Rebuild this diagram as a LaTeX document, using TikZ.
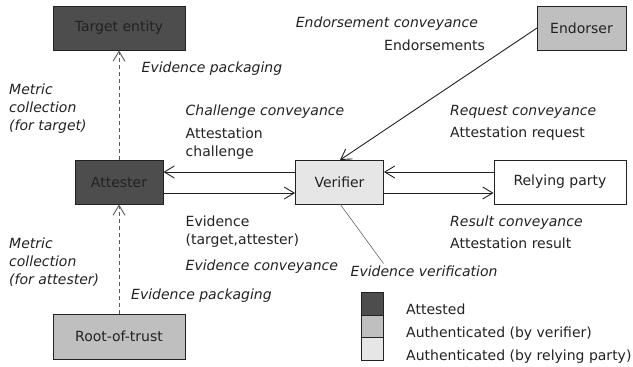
\documentclass[tikz,border=0pt]{standalone}
\usepackage{fontspec}
\setmainfont{DejaVu Sans}
\usetikzlibrary{arrows.meta}
\definecolor{attested}{HTML}{4D4D4D}
\definecolor{authver}{HTML}{BFBFBF}
\definecolor{authrp}{HTML}{E6E6E6}
\definecolor{ink}{HTML}{222222}
\begin{document}
\begin{tikzpicture}[x=1pt,y=-1pt,
  every node/.style={font=\fontsize{14}{18}\selectfont, text=ink},
  entity/.style={draw=ink, line width=0.9pt, inner sep=0pt, minimum height=44pt},
  lbl/.style={anchor=base west, inner sep=0pt, align=left},
  ilbl/.style={lbl, font=\fontsize{14}{18}\selectfont\itshape},
  flow/.style={draw=ink, line width=0.9pt, -{Straight Barb[length=10pt,width=12pt,line width=0.9pt]}},
  measure/.style={draw=ink!75, line width=0.9pt, dash pattern=on 4pt off 3pt, -{Straight Barb[length=10pt,width=12pt,line width=0.9pt]}},
  key/.style={draw=ink, line width=0.9pt, minimum width=22pt, minimum height=22.7pt, inner sep=0pt}
]
\useasboundingbox (0,0) rectangle (633,367);

% entities
\node[entity, fill=attested, minimum width=132pt] (target) at (119,28) {Target entity};
\node[entity, fill=attested, minimum width=88pt] (attester) at (119,182) {Attester};
\node[entity, fill=authrp, minimum width=88pt] (verifier) at (339.5,182) {Verifier};
\node[entity, fill=white, minimum width=132pt] (rp) at (560,182) {Relying party};
\node[entity, fill=authver, minimum width=89pt] (endorser) at (581.5,28) {Endorser};
\node[entity, fill=authver, minimum width=132pt, minimum height=45pt] (rot) at (119,336.5) {Root-of-trust};

% anchor points for the horizontal flows
\coordinate (vtop) at (verifier.west |- 0,172);
\coordinate (vbot) at (verifier.west |- 0,193);
\coordinate (atop) at (attester.east |- 0,172);
\coordinate (abot) at (attester.east |- 0,193);
\coordinate (vrtop) at (verifier.east |- 0,172);
\coordinate (vrbot) at (verifier.east |- 0,193);
\coordinate (rtop) at (rp.west |- 0,172);
\coordinate (rbot) at (rp.west |- 0,193);

% conveyance flows
\draw[flow] (vtop) -- (atop);
\draw[flow] (abot) -- (vbot);
\draw[flow] (rtop) -- (vrtop);
\draw[flow] (vrbot) -- (rbot);
\coordinate (eout) at (537,28);
\coordinate (vin) at (340,160);
\draw[flow] (eout) -- (vin);

% metric collection
\draw[measure] (attester.north) -- (target.south);
\draw[measure] (rot.north) -- (attester.south);

% evidence verification pointer
\coordinate (vv) at (340,204);
\coordinate (vvend) at (383.5,263.5);
\draw[draw=ink!70, line width=0.6pt] (vv) -- (vvend);

% labels (multi-line labels are placed by the baseline of their last line)
\node[ilbl] (l1) at (295.7,27.5) {Endorsement conveyance};
\node[lbl] (l2) at (384,50) {Endorsements};
\node[ilbl] (l3) at (141.5,72.5) {Evidence packaging};
\node[ilbl] (l4) at (9,130.3) {Metric\\collection\\(for target)};
\node[ilbl] (l5) at (185.5,115.7) {Challenge conveyance};
\node[lbl] (l6) at (185.5,156) {Attestation\\challenge};
\node[ilbl] (l7) at (450,115.7) {Request conveyance};
\node[lbl] (l8) at (450,137.5) {Attestation request};
\node[lbl] (l9) at (185.5,244) {Evidence\\(target,attester)};
\node[ilbl] (l10) at (185.5,270.7) {Evidence conveyance};
\node[ilbl] (l11) at (9,284) {Metric\\collection\\(for attester)};
\node[ilbl] (l12) at (131,299.3) {Evidence packaging};
\node[ilbl] (l13) at (450,226) {Result conveyance};
\node[lbl] (l14) at (450,248.3) {Attestation result};
\node[ilbl] (l15) at (350.5,276.7) {Evidence verification};

% legend
\node[key, fill=attested] (k1) at (372,303.6) {};
\node[key, fill=authver] (k2) at (372,326.3) {};
\node[key, fill=authrp] (k3) at (372,349) {};
\node[lbl] (t1) at (406,314.3) {Attested};
\node[lbl] (t2) at (406,337.3) {Authenticated (by verifier)};
\node[lbl] (t3) at (406,360) {Authenticated (by relying party)};
\end{tikzpicture}
\end{document}
